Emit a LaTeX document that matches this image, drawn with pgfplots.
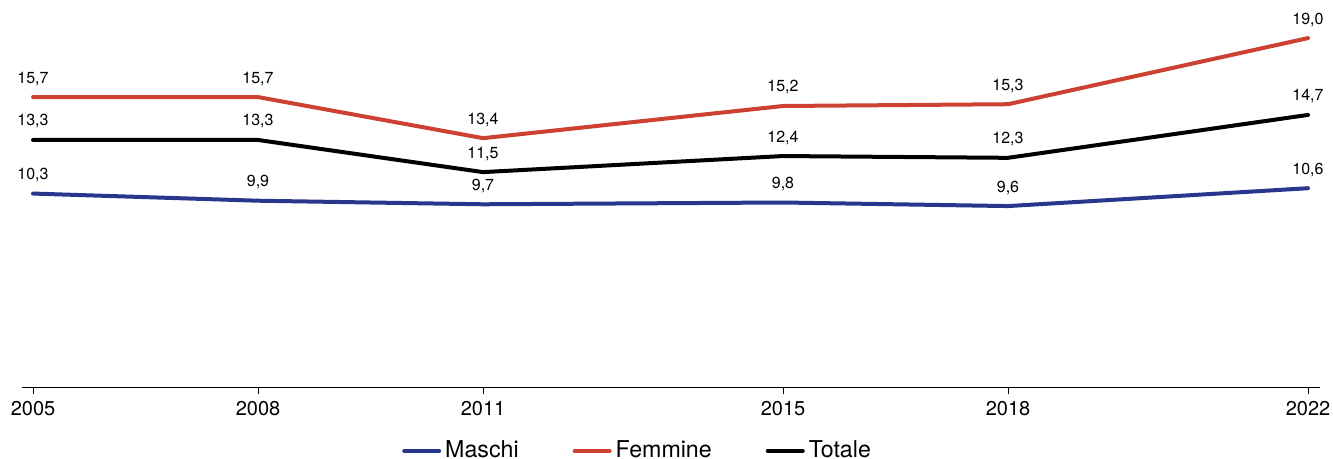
\documentclass[border=0pt]{standalone}
\usepackage{fontspec}
\setmainfont{TeX Gyre Heros}
\usepackage{pgfplots}
\pgfplotsset{compat=1.18}

\definecolor{maschi}{RGB}{40,55,140}
\definecolor{femmine}{RGB}{205,65,50}

\begin{document}
\begin{tikzpicture}
% page: 1333x459 px at 0.5pt per px
\path[use as bounding box] (0,0) rectangle (666.5pt,229.5pt);
\begin{axis}[
    at={(11pt,35.5pt)}, anchor=south west,
    scale only axis,
    width=649pt, height=188.35pt,
    xmin=2004.853, xmax=2022.16,
    ymin=-0.58, ymax=20.5,
    hide y axis,
    axis x line*=bottom,
    x axis line style={line width=0.5pt},
    xtick={2005,2008,2011,2015,2018,2022},
    xticklabels={2005,2008,2011,2015,2018,2022},
    xtick style={black, line width=0.5pt},
    tick align=outside,
    major tick length=3pt,
    x tick label style={font=\fontsize{10}{12}\selectfont},
    /pgf/number format/.cd, use comma, fixed, fixed zerofill, precision=1,
        1000 sep={}, assume math mode=true,
    /pgfplots/.cd,
    clip=false,
    nodes near coords,
    every node near coord/.append style={font=\fontsize{8}{9.6}\selectfont,
        black, anchor=south, yshift=1.5pt},
    every axis plot/.append style={line width=2pt, line cap=round, line join=round},
    legend columns=3,
    legend style={at={(0.475,-0.167)}, anchor=center, draw=none, fill=none,
        font=\fontsize{11.6}{14}\selectfont,
        /tikz/every even column/.append style={column sep=25pt}},
    legend image code/.code={\draw[#1, line width=2pt] (0pt,0pt) -- (17.5pt,0pt);},
]
\addplot[color=maschi] coordinates {
  (2005,10.3) (2008,9.9) (2011,9.7) (2015,9.8) (2018,9.6) (2022,10.6)
};
\addlegendentry{Maschi}
\addplot[color=femmine] coordinates {
  (2005,15.7) (2008,15.7) (2011,13.4) (2015,15.2) (2018,15.3) (2022,19.0)
};
\addlegendentry{Femmine}
\addplot[color=black] coordinates {
  (2005,13.3) (2008,13.3) (2011,11.5) (2015,12.4) (2018,12.3) (2022,14.7)
};
\addlegendentry{Totale}
\end{axis}
\end{tikzpicture}
\end{document}
